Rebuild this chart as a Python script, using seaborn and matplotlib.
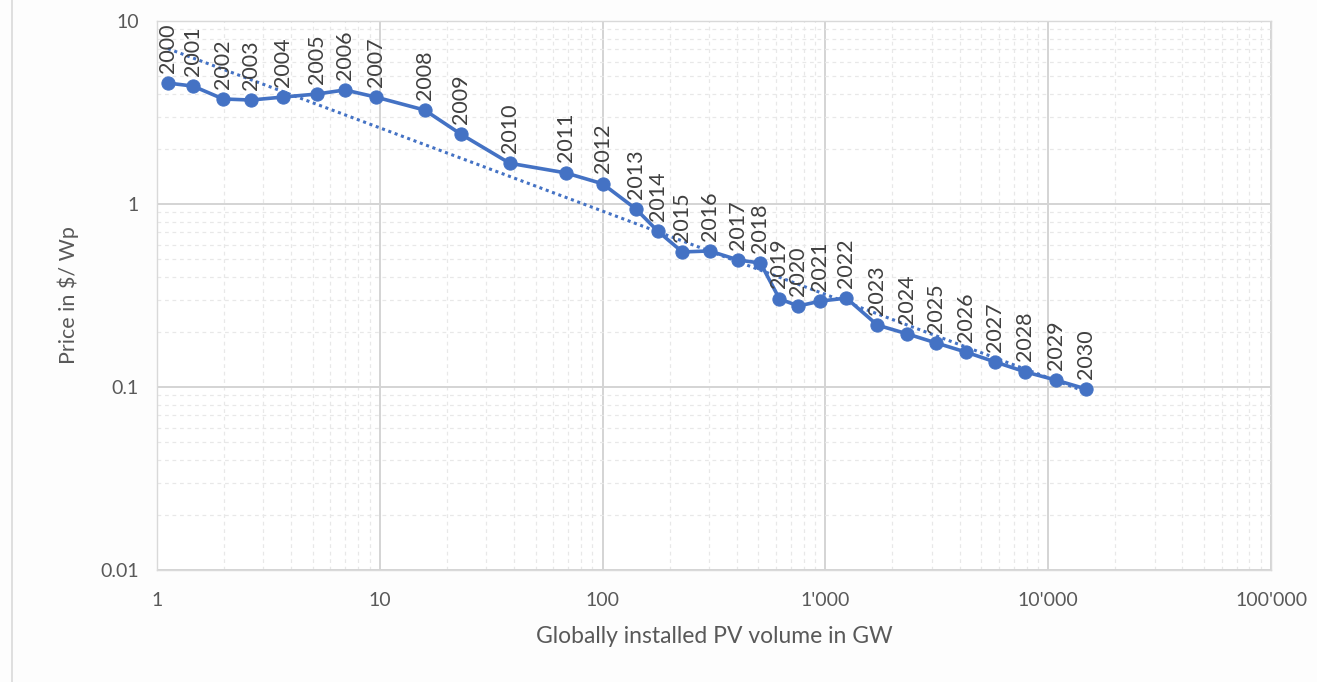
import numpy as np
import pandas as pd
import matplotlib.pyplot as plt
import seaborn as sns
from matplotlib.lines import Line2D
from matplotlib.ticker import FixedLocator, FuncFormatter, LogLocator, NullFormatter

# data
years = list(range(2000, 2031))
volume_gw = [1.12, 1.45, 1.98, 2.64, 3.67, 5.22, 6.97, 9.6, 15.9, 23.1,
             38.3, 68.2, 100, 141, 177, 228, 302, 407, 511, 622,
             757, 950, 1242, 1711, 2333, 3147, 4286, 5786, 7887, 10860,
             14800]
price_wp = [4.58, 4.41, 3.75, 3.70, 3.84, 3.99, 4.20, 3.84, 3.26, 2.41,
            1.67, 1.48, 1.29, 0.94, 0.71, 0.547, 0.554, 0.494, 0.476, 0.303,
            0.277, 0.295, 0.306, 0.218, 0.195, 0.174, 0.155, 0.137, 0.121, 0.109,
            0.0975]
x_ticks = [1, 10, 100, 1000, 10000, 100000]
y_ticks = [0.01, 0.1, 1, 10]

BLUE = "#4472C4"
GREY_TEXT = "#595959"

df = pd.DataFrame({"year": years, "volume": volume_gw, "price": price_wp})

# power-law trend line (least squares in log-log space), like Excel's
slope, intercept = np.polyfit(np.log10(df["volume"]), np.log10(df["price"]), 1)
trend = pd.DataFrame({"volume": [df["volume"].iloc[0], df["volume"].iloc[-1]]})
trend["price"] = 10 ** (intercept + slope * np.log10(trend["volume"]))

sns.set_theme(style="white")
plt.rcParams["font.family"] = ["Lato", "DejaVu Sans"]

fig = plt.figure(figsize=(13.17, 6.82), dpi=100)
fig.patch.set_facecolor("#fdfdfd")
ax = fig.add_axes([0.1192, 0.1642, 0.8459, 0.805])
ax.set_facecolor("white")
ax.set_xscale("log")
ax.set_yscale("log")

sns.lineplot(data=trend, x="volume", y="price", ax=ax, color=BLUE,
             linestyle=(0, (1, 1.2)), linewidth=2.2, zorder=3)
sns.lineplot(data=df, x="volume", y="price", ax=ax, color=BLUE, linewidth=2.6,
             marker="o", markersize=9.5, markeredgecolor=BLUE, zorder=4)

for _, row in df.iterrows():
    ax.annotate(str(int(row["year"])), (row["volume"], row["price"]),
                xytext=(0, 7.5), textcoords="offset points", rotation=90,
                ha="center", va="bottom", fontsize=15.5, color="#404040", zorder=5)

ax.set_xlim(1, 100000)
ax.set_ylim(0.01, 10)
ax.xaxis.set_major_locator(FixedLocator(x_ticks))
ax.yaxis.set_major_locator(FixedLocator(y_ticks))
ax.xaxis.set_major_formatter(FuncFormatter(lambda v, p: f"{v:,.0f}".replace(",", "'")))
ax.yaxis.set_major_formatter(FuncFormatter(lambda v, p: f"{v:g}"))
for axis in (ax.xaxis, ax.yaxis):
    axis.set_minor_locator(LogLocator(base=10, subs=np.arange(2, 10)))
    axis.set_minor_formatter(NullFormatter())

ax.grid(which="major", color="#d4d4d4", linewidth=1.4)
ax.grid(which="minor", color="#e8e8e8", linewidth=0.9, linestyle=(0, (3, 3)))
ax.set_axisbelow(True)
ax.tick_params(which="both", length=0, labelsize=14, labelcolor=GREY_TEXT)
ax.tick_params(axis="x", pad=16)
ax.tick_params(axis="y", pad=13)
for side in ax.spines.values():
    side.set_color("#d9d9d9")
    side.set_linewidth(1.0)

ax.set_xlabel("Globally installed PV volume in GW", fontsize=16.5, color=GREY_TEXT, labelpad=12)
ax.set_ylabel("Price in $/ Wp", fontsize=15.5, color=GREY_TEXT, labelpad=15)

# left edge of the chart frame
fig.add_artist(Line2D([12 / 1317, 12 / 1317], [0, 1], color="#d9d9d9", linewidth=1.2))

fig.savefig("out.png", dpi=100, facecolor=fig.get_facecolor())
